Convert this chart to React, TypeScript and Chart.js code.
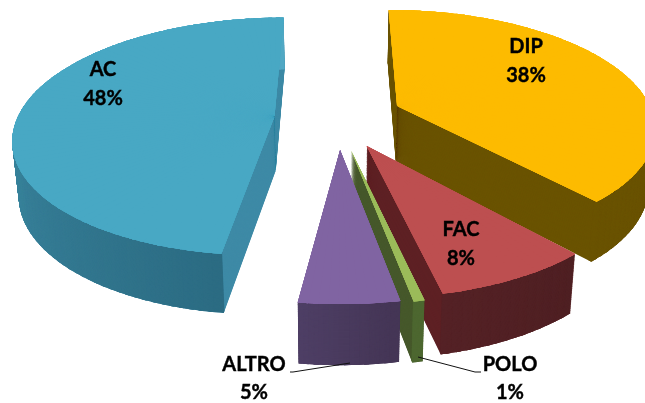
import React, { useEffect, useRef } from "react";
import { Chart, registerables } from "chart.js";

Chart.register(...registerables);

const categories = ["DIP", "FAC", "POLO", "ALTRO", "AC"];
const values = [38.45, 8.05, 0.55, 5.05, 47.9];
const topColors = ["#fdbb00", "#bd4f50", "#9bbb59", "#8064a2", "#48a8c4"];
const cutColors = ["#6a5300", "#5e2024", "#46582b", "#443555", "#3e8aa6"];
const rimFrom = ["#6a5300", "#4f2023", "#506c30", "#443555", "#2c6c83"];
const rimTo = ["#6a5300", "#552226", "#4a6230", "#4e3f66", "#50a8c4"];
const explode = [0.25, 0.29, 0.3, 0.29, 0.255];
const nudgeX = [0, -0.025, -0.012, 0, 0.007];
const nudgeY = [0.01, 0, 0, 0, 0.03];
const depthScale = [1.05, 1, 1, 1, 1];
const paintOrder = [4, 0, 1, 2, 3];

// Projection of the tilted pie
const VIEW = { cx: 338, cy: 115, a: 256, b: 115, p: 0.167, depth: 54, depthGrow: 0.0375, shrink: 0.02 };
const rotationDeg = 0;

// Label layout: name centre / percentage centre
const labelPlace: Record<string, [number, number, number]> = {
  AC: [103, 70, 99],
  DIP: [526, 47, 76],
  FAC: [461, 230, 259],
  ALTRO: [254, 365, 393],
  POLO: [510, 365, 393],
};
const leaders: [number, number][][] = [
  [[290, 372], [293, 372], [350, 363]],
  [[418, 357], [475, 372], [481, 372]],
];

type Pt = [number, number];

function project(X: number, Y: number, t: number): Pt {
  const { cx, cy, a, b, p, depth, depthGrow, shrink } = VIEW;
  const s = 1 / (1 - p * Y);
  const x = cx + a * X * s;
  const y = cy + b * Y * s;
  return [cx + (x - cx) * (1 - shrink * t), y + t * (depth + depthGrow * (y - cy))];
}

function hex(c: string): number[] {
  return [1, 3, 5].map((i) => parseInt(c.slice(i, i + 2), 16));
}
function mix(c1: string, c2: string, f: number): string {
  const a = hex(c1);
  const b = hex(c2);
  return `rgb(${a.map((v, i) => Math.round(v + (b[i] - v) * f)).join(",")})`;
}

function drawWedge(
  ctx: CanvasRenderingContext2D,
  el: any,
  base: { start: number; end: number; outer: number; options: any },
  centre: Pt,
  a1: number,
  a2: number,
  drawTo: number,
  t: number,
  color: string,
  inner: number
) {
  const R = base.outer;
  const P0 = project(centre[0], centre[1], t);
  const P1 = project(centre[0] + Math.cos(a1), centre[1] + Math.sin(a1), t);
  const P2 = project(centre[0] + Math.cos(a2), centre[1] + Math.sin(a2), t);
  const u1: Pt = [R * Math.cos(a1), R * Math.sin(a1)];
  const u2: Pt = [R * Math.cos(a2), R * Math.sin(a2)];
  const v1: Pt = [P1[0] - P0[0], P1[1] - P0[1]];
  const v2: Pt = [P2[0] - P0[0], P2[1] - P0[1]];
  const det = u1[0] * u2[1] - u2[0] * u1[1];
  const ma = (v1[0] * u2[1] - v2[0] * u1[1]) / det;
  const mc = (-v1[0] * u2[0] + v2[0] * u1[0]) / det;
  const mb = (v1[1] * u2[1] - v2[1] * u1[1]) / det;
  const md = (-v1[1] * u2[0] + v2[1] * u1[0]) / det;
  ctx.setTransform(ma, mb, mc, md, P0[0] - ma * el.x - mc * el.y, P0[1] - mb * el.x - md * el.y);
  el.startAngle = a1;
  el.endAngle = drawTo;
  el.circumference = drawTo - a1;
  el.innerRadius = inner;
  el.options = { ...base.options, backgroundColor: color, borderWidth: 0, offset: 0, spacing: 0 };
  el.draw(ctx);
}

const pie3d = {
  id: "pie3d",
  beforeDatasetsDraw(chart: any) {
    const ctx: CanvasRenderingContext2D = chart.ctx;
    const arcs = chart.getDatasetMeta(0).data;
    const STEP = (2 * Math.PI) / 180;
    const LAYERS = 70;
    ctx.save();
    for (const i of paintOrder) {
      const el = arcs[i];
      const base = { start: el.startAngle, end: el.endAngle, outer: el.outerRadius, options: el.options };
      const mid = (base.start + base.end) / 2;
      const centre: Pt = [explode[i] * Math.cos(mid) + nudgeX[i], explode[i] * Math.sin(mid) + nudgeY[i]];
      const span = base.end - base.start;
      const n = Math.max(1, Math.ceil(span / STEP));
      const d = span / n;
      const paint = (t: number, colorAt: (k: number) => string, inner: number) => {
        for (let k = 0; k < n; k++) {
          const a1 = base.start + k * d;
          const a2 = a1 + d;
          drawWedge(ctx, el, base, centre, a1, a2, Math.min(a2 + d * 0.5, base.end), t, colorAt(k), inner);
        }
      };
      // solid body in the colour of the cut faces
      for (let l = LAYERS; l >= 1; l--) paint((l / LAYERS) * depthScale[i], () => cutColors[i], 0);
      // outer rim
      for (let l = LAYERS; l >= 1; l--) {
        paint((l / LAYERS) * depthScale[i], (k) => mix(rimFrom[i], rimTo[i], (k + 0.5) / n), base.outer * 0.985);
      }
      // top face, repeated so that the wedge tips close up at the apex
      for (let pass = 0; pass < 4; pass++) paint(0, () => topColors[i], 0);
      el.startAngle = base.start;
      el.endAngle = base.end;
      el.circumference = span;
      el.innerRadius = 0;
      el.options = base.options;
    }
    ctx.restore();
    return false;
  },
  afterDraw(chart: any) {
    const ctx: CanvasRenderingContext2D = chart.ctx;
    ctx.save();
    ctx.setTransform(1, 0, 0, 1, 0, 0);
    ctx.strokeStyle = "#111111";
    ctx.lineWidth = 1;
    for (const line of leaders) {
      ctx.beginPath();
      line.forEach(([x, y], i) => (i ? ctx.lineTo(x, y) : ctx.moveTo(x, y)));
      ctx.stroke();
    }
    ctx.fillStyle = "#000000";
    ctx.strokeStyle = "#000000";
    ctx.lineWidth = 0.4;
    ctx.font = "bold 20px Lato";
    ctx.textAlign = "center";
    ctx.textBaseline = "middle";
    const total = values.reduce((s, v) => s + v, 0);
    const put = (text: string, x: number, y: number) => {
      ctx.fillText(text, x, y);
      ctx.strokeText(text, x, y);
    };
    categories.forEach((name, i) => {
      const [x, y1, y2] = labelPlace[name];
      put(name, x, y1);
      put(`${Math.round((values[i] / total) * 100)}%`, x, y2);
    });
    ctx.restore();
  },
};

export default function App() {
  const ref = useRef<HTMLCanvasElement>(null);
  useEffect(() => {
    const chart = new Chart(ref.current as HTMLCanvasElement, {
      type: "pie",
      data: {
        labels: categories,
        datasets: [{ data: values, backgroundColor: topColors, borderWidth: 0 }],
      },
      options: {
        responsive: false,
        animation: false,
        rotation: rotationDeg,
        events: [],
        plugins: { legend: { display: false }, tooltip: { enabled: false } },
      },
      plugins: [pie3d],
    } as any);
    return () => chart.destroy();
  }, []);
  return (
    <div style={{ position: "absolute", left: 0, top: 0, width: 645, height: 403, background: "#fff" }}>
      <canvas ref={ref} width={645} height={403} style={{ display: "block" }} />
    </div>
  );
}
